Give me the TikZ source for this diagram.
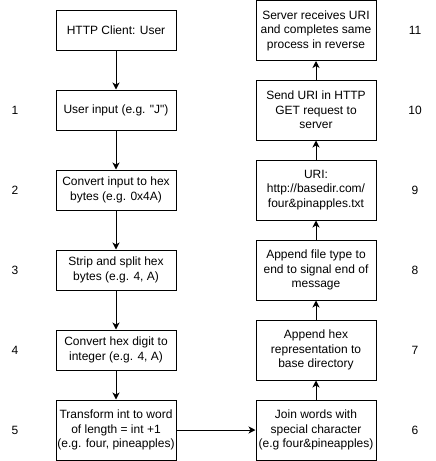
\documentclass[tikz,border=0pt]{standalone}
\usepackage{fontspec}
\setmainfont{Liberation Sans}[Ligatures=TeXOff]
\usetikzlibrary{arrows.meta}
\begin{document}
\begin{tikzpicture}[x=1pt,y=-1pt,
  box/.style={draw,line width=1pt,fill=white,minimum width=120pt,inner sep=0pt,align=center,font=\fontsize{12}{14.5}\selectfont},
  small/.style={box,minimum height=40pt},
  tall/.style={box,minimum height=60pt},
  num/.style={font=\fontsize{12}{14.5}\selectfont},
  arr/.style={line width=1pt,-{Stealth[length=7pt,width=7pt,inset=2pt]}}]
\useasboundingbox (0,0) rectangle (436,461);
% left column
\node[small] (c)  at (116,30)  {HTTP Client: User};
\node[small] (b1) at (116,110) {User input (e.g. "J")};
\node[small] (b2) at (116,190) {Convert input to hex\\bytes (e.g. 0x4A)};
\node[small] (b3) at (116,270) {Strip and split hex\\bytes (e.g. 4, A)};
\node[small] (b4) at (116,350) {Convert hex digit to\\integer (e.g. 4, A)};
\node[tall]  (b5) at (116,430) {Transform int to word\\of length = int +1\\(e.g. four, pineapples)};
% right column
\node[tall] (b6)  at (316,430) {Join words with\\special character\\(e.g four\&pineapples)};
\node[tall] (b7)  at (316,350) {Append hex\\representation to\\base directory};
\node[tall] (b8)  at (316,270) {Append file type to\\end to signal end of\\message};
\node[tall] (b9)  at (316,190) {URI:\\http://basedir.com/\\four\&pinapples.txt};
\node[tall] (b10) at (316,110) {Send URI in HTTP\\GET request to\\server};
\node[tall] (b11) at (316,30.5) {Server receives URI\\and completes same\\process in reverse};
% numbers
\node[num] (n1) at (15,110) {1};
\node[num] (n2) at (15,190) {2};
\node[num] (n3) at (15,270) {3};
\node[num] (n4) at (15,350) {4};
\node[num] (n5) at (15,430) {5};
\node[num] (n6) at (415,430) {6};
\node[num] (n7) at (415,350) {7};
\node[num] (n8) at (415,270) {8};
\node[num] (n9) at (415,190) {9};
\node[num] (n10) at (415,110) {10};
\node[num] (n11) at (415,30) {11};
% connectors
\draw[arr] (c) -- (b1);
\draw[arr] (b1) -- (b2);
\draw[arr] (b2) -- (b3);
\draw[arr] (b3) -- (b4);
\draw[arr] (b4) -- (b5);
\draw[arr] (b5) -- (b6);
\draw[arr] (b6) -- (b7);
\draw[arr] (b7) -- (b8);
\draw[arr] (b8) -- (b9);
\draw[arr] (b9) -- (b10);
\draw[arr] (b10) -- (b11);
\end{tikzpicture}
\end{document}
